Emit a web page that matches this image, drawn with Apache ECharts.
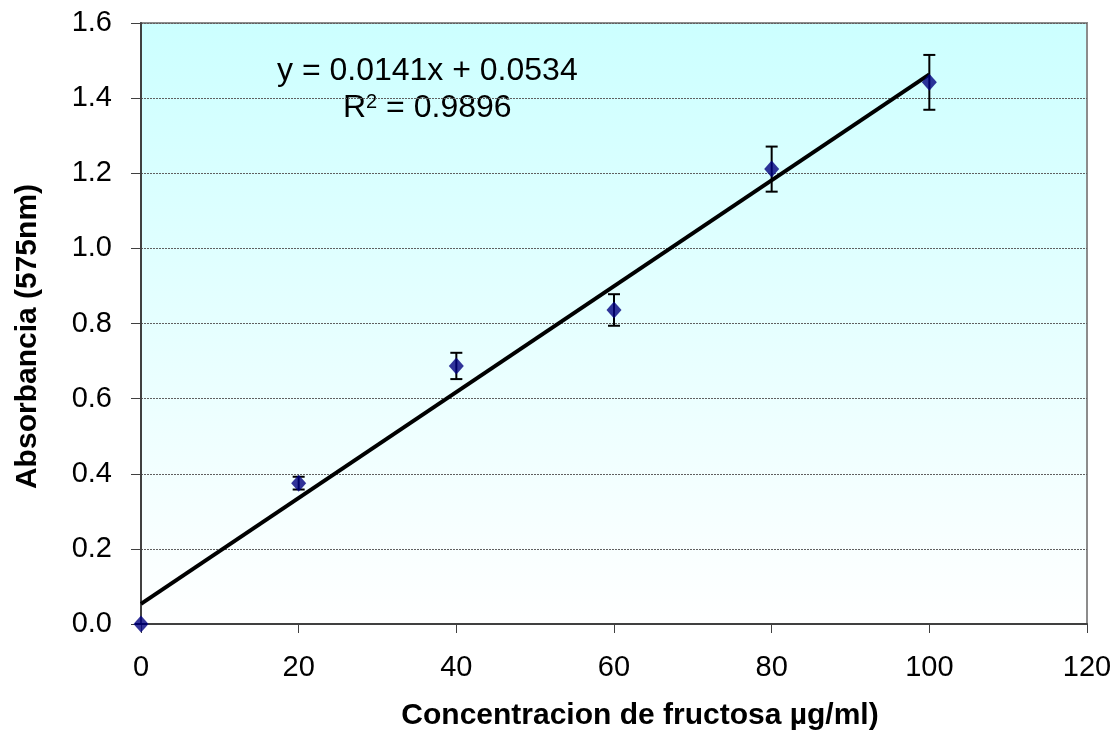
<!DOCTYPE html>
<html>
<head>
<meta charset="utf-8">
<script src="https://cdn.jsdelivr.net/npm/echarts@6/dist/echarts.min.js"></script>
<style>
  html, body { margin: 0; padding: 0; background: #fff; }
  #chart { width: 1118px; height: 736px; }
</style>
</head>
<body>
<div id="chart"></div>
<script>
// Fructose calibration: concentration (µg/ml) vs absorbance at 575 nm
const concentration = [0, 20, 40, 60, 80, 100];
const absorbance = [0.000, 0.375, 0.687, 0.836, 1.211, 1.442];
const errorHalfWidth = [0, 0.017, 0.035, 0.042, 0.060, 0.073];

// Linear fit reported on the chart
const slope = 0.0141;
const intercept = 0.0534;
const rSquared = 0.9896;
const fitRange = [0, 100];

const xTicks = { min: 0, max: 120, interval: 20 };
const yTicks = { min: 0, max: 1.6, interval: 0.2 };

const FONT = '"Liberation Sans", Arial, sans-serif';

const points = concentration.map((x, i) => [x, absorbance[i]]);
const errorData = concentration.map((x, i) => [x, absorbance[i] - errorHalfWidth[i], absorbance[i] + errorHalfWidth[i]]);
const fitLine = fitRange.map(x => [x, slope * x + intercept]);

const chart = echarts.init(document.getElementById('chart'), null, { renderer: 'canvas' });

chart.setOption({
  animation: false,
  backgroundColor: '#ffffff',
  grid: {
    left: 141, right: 31, top: 23, bottom: 112,
    show: true,
    borderColor: '#8c8c8c',
    borderWidth: 2,
    backgroundColor: new echarts.graphic.LinearGradient(0, 0, 0, 1, [
      { offset: 0, color: '#ccffff' },
      { offset: 1, color: '#ffffff' }
    ])
  },
  xAxis: {
    type: 'value',
    min: xTicks.min, max: xTicks.max, interval: xTicks.interval,
    name: 'Concentracion de fructosa µg/ml)',
    nameLocation: 'middle',
    nameGap: 77,
    nameTextStyle: { fontFamily: FONT, fontSize: 30, fontWeight: 'bold', color: '#000', padding: [0, 0, 0, 52] },
    axisLine: { show: true, lineStyle: { color: '#404040', width: 2 } },
    axisTick: { show: true, inside: false, length: 9, lineStyle: { color: '#404040', width: 1 } },
    axisLabel: { fontFamily: FONT, fontSize: 29, color: '#000', margin: 29 },
    splitLine: { show: false }
  },
  yAxis: {
    type: 'value',
    min: yTicks.min, max: yTicks.max, interval: yTicks.interval,
    name: 'Absorbancia (575nm)',
    nameLocation: 'middle',
    nameGap: 98,
    nameRotate: 90,
    nameTextStyle: { fontFamily: FONT, fontSize: 30, fontWeight: 'bold', color: '#000', padding: [0, 26, 0, 0] },
    axisLine: { show: true, lineStyle: { color: '#404040', width: 2 } },
    axisTick: { show: true, inside: false, length: 10, lineStyle: { color: '#404040', width: 1 } },
    axisLabel: {
      fontFamily: FONT, fontSize: 29, color: '#000', margin: 29,
      formatter: v => v.toFixed(1)
    },
    splitLine: { show: true, lineStyle: { color: '#606060', width: 1, type: [2, 1] } }
  },
  series: [
    {
      name: 'Tendencia',
      type: 'line',
      data: fitLine,
      symbol: 'none',
      lineStyle: { color: '#000', width: 4 },
      z: 3
    },
    {
      name: 'Error',
      type: 'custom',
      data: errorData,
      z: 4,
      renderItem: (params, api) => {
        const x = api.value(0);
        const lo = api.coord([x, api.value(1)]);
        const hi = api.coord([x, api.value(2)]);
        const cap = 6;
        const style = { stroke: '#000', lineWidth: 2 };
        return {
          type: 'group',
          children: [
            { type: 'line', shape: { x1: lo[0], y1: lo[1], x2: hi[0], y2: hi[1] }, style },
            { type: 'line', shape: { x1: lo[0] - cap, y1: lo[1], x2: lo[0] + cap, y2: lo[1] }, style },
            { type: 'line', shape: { x1: hi[0] - cap, y1: hi[1], x2: hi[0] + cap, y2: hi[1] }, style }
          ]
        };
      }
    },
    {
      name: 'Absorbancia',
      type: 'scatter',
      data: points,
      symbol: 'diamond',
      symbolSize: [15, 17],
      itemStyle: { color: '#000080' },
      z: 5
    }
  ],
  graphic: [
    {
      type: 'text', left: 277, top: 55,
      style: { text: 'y = ' + slope.toFixed(4) + 'x + ' + intercept.toFixed(4), fontFamily: FONT, fontSize: 32, fill: '#000' }
    },
    {
      type: 'text', left: 343, top: 92,
      style: {
        text: '{r|R}{s|2}{r| = ' + rSquared.toFixed(4) + '}',
        fontFamily: FONT, fill: '#000',
        rich: {
          r: { fontFamily: FONT, fontSize: 32, color: '#000' },
          s: { fontFamily: FONT, fontSize: 20, color: '#000', verticalAlign: 'top', padding: [0, 0, 12, 0] }
        }
      }
    }
  ]
});
</script>
</body>
</html>
